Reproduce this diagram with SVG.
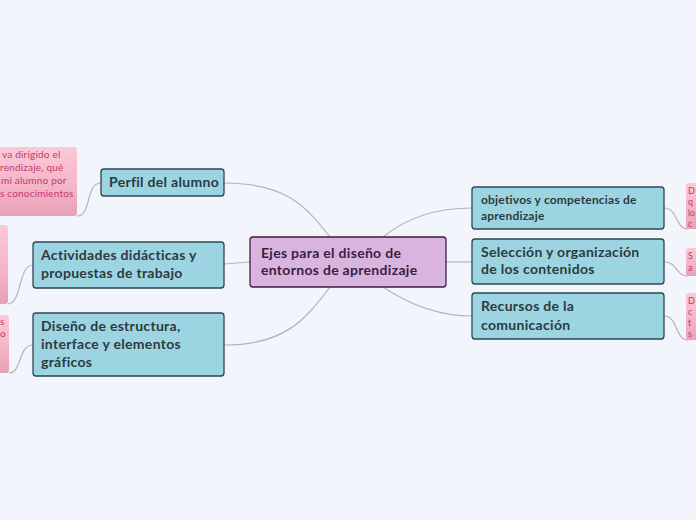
<svg xmlns="http://www.w3.org/2000/svg" width="696" height="520" viewBox="0 0 696 520">
<defs>
<linearGradient id="pink" x1="0" y1="0" x2="0" y2="1">
<stop offset="0" stop-color="#fcc9d8"/>
<stop offset="0.6" stop-color="#f4b3c7"/>
<stop offset="1" stop-color="#e8a0b6"/>
</linearGradient>
<style>
.bg{fill:#f3f5fc}
.node{fill:#9dd4e1;stroke:#2d4650;stroke-width:1.3}
.root{fill:#d9b4df;stroke:#3b1e40;stroke-width:1.3}
.note{fill:url(#pink)}
.t{font-family:Lato,"Liberation Sans",sans-serif;font-weight:bold;font-size:14px;letter-spacing:0.3px;fill:#2c3a40}
.ts{font-family:Lato,"Liberation Sans",sans-serif;font-weight:bold;font-size:12px;letter-spacing:0.2px;fill:#2c3a40}
.rt{font-family:Lato,"Liberation Sans",sans-serif;font-weight:bold;font-size:14px;letter-spacing:0.3px;fill:#3a1e3e}
.nt{font-family:Lato,"Liberation Sans",sans-serif;font-size:10px;letter-spacing:0.2px;fill:#c23a6e}
.nr{font-family:Lato,"Liberation Sans",sans-serif;font-size:9px;fill:#c23a6e}
.c{fill:none;stroke:#b4b4b8;stroke-width:1.2}
</style>
</defs>
<rect class="bg" x="0" y="0" width="696" height="520"/>
<g id="connectors">
<path class="c" d="M224,183 C285,183 305,205 330,237"/>
<path class="c" d="M224,264 L250,262"/>
<path class="c" d="M224,345 C285,345 305,320 330,287"/>
<path class="c" d="M383,237 C410,215 440,208 472,208"/>
<path class="c" d="M446,262 L472,262"/>
<path class="c" d="M383,287 C410,305 440,316 472,316"/>
<path class="c" d="M101,183 C85,183 92,216 77,216"/>
<path class="c" d="M33,265 C18,265 22,304 8,304"/>
<path class="c" d="M33,345 C18,345 22,373 9,373"/>
<path class="c" d="M664,208 C678,208 675,229 688,229"/>
<path class="c" d="M664,262 C678,262 675,276 688,276"/>
<path class="c" d="M664,316 C678,316 675,340 688,340"/>
</g>
<g id="note-left-1">
<rect class="note" x="-10" y="147" width="87" height="69" rx="3"/>
<text class="nt" x="2" y="158">va dirigido el</text>
<text class="nt" x="0" y="171">rendizaje, qué</text>
<text class="nt" x="1" y="184">mi alumno por</text>
<text class="nt" x="0" y="197">s conocimientos</text>
</g>
<g id="note-left-2">
<rect class="note" x="-10" y="225" width="18" height="79" rx="3"/>
</g>
<g id="note-left-3">
<rect class="note" x="-10" y="315" width="19" height="58" rx="3"/>
<text class="nt" x="0" y="325">s</text>
<text class="nt" x="0" y="337">o</text>
</g>
<g id="note-right-1">
<rect class="note" x="686" y="183" width="20" height="46" rx="3"/>
<text class="nr" x="688" y="194">D</text>
<text class="nr" x="688" y="205">q</text>
<text class="nr" x="688" y="216">lo</text>
<text class="nr" x="688" y="227">c</text>
</g>
<g id="note-right-2">
<rect class="note" x="686" y="248" width="20" height="28" rx="3"/>
<text class="nr" x="688" y="259">S</text>
<text class="nr" x="688" y="271">a</text>
</g>
<g id="note-right-3">
<rect class="note" x="686" y="293" width="20" height="47" rx="3"/>
<text class="nr" x="688" y="304">D</text>
<text class="nr" x="688" y="315">c</text>
<text class="nr" x="688" y="326">t</text>
<text class="nr" x="688" y="337">s</text>
</g>
<g id="root">
<rect class="root" x="250" y="237" width="196" height="50" rx="3"/>
<text class="rt" x="261" y="258">Ejes para el diseño de</text>
<text class="rt" x="261" y="275">entornos de aprendizaje</text>
</g>
<g id="perfil">
<rect class="node" x="101" y="169" width="123" height="27" rx="3"/>
<text class="t" x="109" y="187">Perfil del alumno</text>
</g>
<g id="actividades">
<rect class="node" x="33" y="242" width="191" height="46" rx="3"/>
<text class="t" x="41" y="260">Actividades didácticas y</text>
<text class="t" x="41" y="278">propuestas de trabajo</text>
</g>
<g id="diseno">
<rect class="node" x="33" y="313" width="191" height="63" rx="3"/>
<text class="t" x="41" y="331">Diseño de estructura,</text>
<text class="t" x="41" y="349">interface y elementos</text>
<text class="t" x="41" y="367">gráficos</text>
</g>
<g id="objetivos">
<rect class="node" x="472" y="187" width="192" height="42" rx="3"/>
<text class="ts" x="481" y="204">objetivos y competencias de</text>
<text class="ts" x="481" y="220">aprendizaje</text>
</g>
<g id="seleccion">
<rect class="node" x="472" y="239" width="192" height="45" rx="3"/>
<text class="t" x="481" y="257">Selección y organización</text>
<text class="t" x="481" y="274">de los contenidos</text>
</g>
<g id="recursos">
<rect class="node" x="472" y="293" width="192" height="46" rx="3"/>
<text class="t" x="481" y="311">Recursos de la</text>
<text class="t" x="481" y="330">comunicación</text>
</g>
</svg>
